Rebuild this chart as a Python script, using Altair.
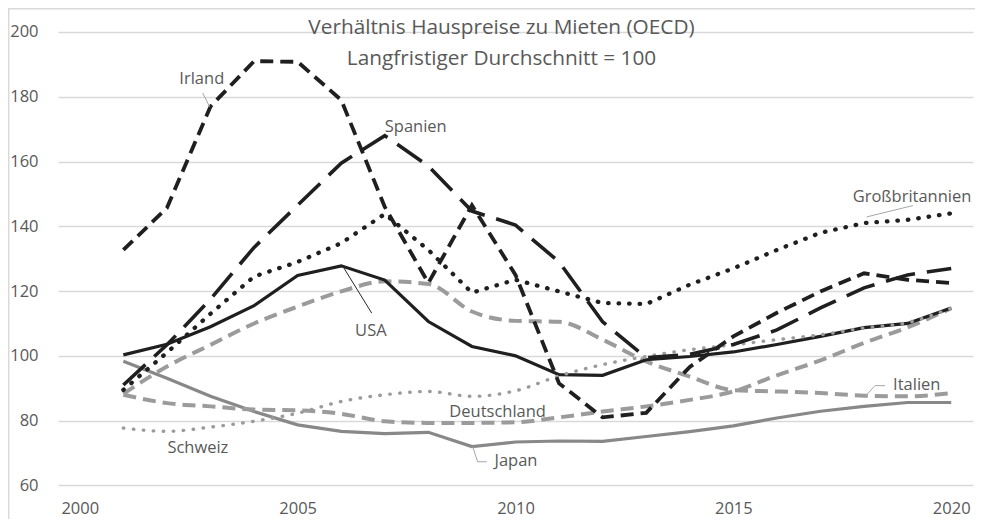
import altair as alt
import pandas as pd

# ---------------- data ----------------
years = list(range(2001, 2021))
irland = [132.7, 145.7, 177.0, 191.0, 190.8, 179.0, 146.0, 122.5, 146.5, 125.0,
          91.5, 81.0, 82.4, 96.6, 106.0, 113.3, 119.9, 125.5, 123.5, 122.5]
spanien = [91.0, 103.4, 117.5, 133.5, 146.5, 159.5, 168.0, 158.6, 144.7, 140.4,
           129.0, 110.5, 99.4, 100.5, 103.5, 108.0, 114.8, 121.0, 125.0, 127.0]
grossbritannien = [89.5, 101.0, 113.0, 124.5, 129.0, 134.8, 143.8, 132.7, 119.5, 123.5,
                   119.9, 116.3, 116.0, 122.0, 127.0, 132.7, 138.0, 141.0, 142.0, 144.0]
usa = [100.3, 103.6, 109.0, 115.5, 124.8, 127.8, 123.4, 110.6, 102.9, 100.0,
       94.2, 94.0, 98.8, 99.8, 101.2, 103.5, 106.0, 108.7, 110.0, 114.8]
italien = [88.3, 96.7, 103.4, 110.0, 115.2, 119.9, 123.0, 122.2, 113.7, 110.8,
           110.5, 105.0, 98.3, 93.6, 89.4, 89.0, 88.5, 87.7, 87.5, 88.5]
deutschland = [88.0, 85.4, 84.4, 83.4, 83.2, 82.1, 79.8, 79.3, 79.3, 79.5,
               81.0, 82.8, 84.4, 86.4, 89.0, 94.0, 98.6, 104.0, 108.8, 114.7]
schweiz = [77.7, 76.7, 78.0, 79.8, 82.3, 85.9, 88.0, 89.0, 87.5, 89.2,
           93.8, 97.3, 99.8, 101.9, 103.4, 105.0, 106.5, 108.6, 110.3, 114.7]
japan = [98.3, 93.1, 87.5, 82.8, 78.7, 76.7, 76.0, 76.4, 72.0, 73.4,
         73.7, 73.6, 75.1, 76.6, 78.4, 80.8, 82.9, 84.4, 85.6, 85.6]

x_ticks = [2000, 2005, 2010, 2015, 2020]
y_ticks = [60, 80, 100, 120, 140, 160, 180, 200]

title_lines = ["Verhältnis Hauspreise zu Mieten (OECD)", "Langfristiger Durchschnitt = 100"]

# label names and their anchor (year, value)
label_names = ["Irland", "Spanien", "Großbritannien", "USA", "Italien", "Deutschland", "Schweiz", "Japan"]
label_years = [2002.80, 2007.71, 2019.10, 2006.68, 2019.21, 2009.59, 2002.71, 2010.01]
label_values = [185.5, 170.7, 149.1, 107.7, 91.1, 82.7, 71.6, 67.6]

# leader lines (year, value) -> (year2, value2)
leader_x = [2002.82, 2019.12, 2006.04, 2018.48, 2018.25, 2009.02, 2009.13]
leader_y = [181.2, 146.4, 127.6, 90.8, 90.8, 71.9, 67.3]
leader_x2 = [2002.98, 2018.06, 2006.70, 2018.25, 2018.02, 2009.13, 2009.34]
leader_y2 = [176.9, 142.9, 113.2, 90.8, 87.4, 67.3, 67.3]
leader_col = ["#a6a6a6", "#a6a6a6", "#262626", "#a6a6a6", "#a6a6a6", "#a6a6a6", "#a6a6a6"]

series = {
    "Irland": irland,
    "Spanien": spanien,
    "Großbritannien": grossbritannien,
    "USA": usa,
    "Italien": italien,
    "Deutschland": deutschland,
    "Schweiz": schweiz,
    "Japan": japan,
}

# ---------------- styles ----------------
BLACK = "#1f1f1f"
GRAY = "#9b9b9b"
styles = {
    "Japan": dict(color="#888888", strokeWidth=3.2, interpolate="linear"),
    "Italien": dict(color=GRAY, strokeWidth=4, strokeDash=[13, 7], interpolate="monotone"),
    "Deutschland": dict(color=GRAY, strokeWidth=4, strokeDash=[13, 7], interpolate="monotone"),
    "USA": dict(color=BLACK, strokeWidth=3.2, interpolate="linear"),
    "Schweiz": dict(color=GRAY, strokeWidth=3.4, strokeDash=[0.5, 9.5], strokeCap="round",
                    interpolate="monotone"),
    "Großbritannien": dict(color=BLACK, strokeWidth=4.3, strokeDash=[0.5, 10], strokeCap="round",
                           interpolate="linear"),
    "Spanien": dict(color=BLACK, strokeWidth=3.6, strokeDash=[30, 12], interpolate="linear"),
    "Irland": dict(color=BLACK, strokeWidth=3.8, strokeDash=[13, 7], interpolate="linear"),
}

FONT = "Open Sans"
TEXT = "#595959"

x_scale = alt.Scale(domain=[1999.5, 2020.5], nice=False, zero=False)
y_scale = alt.Scale(domain=[60, 200], nice=False, zero=False)

x_axis = alt.Axis(values=x_ticks, format="d", grid=False, domain=False, ticks=False, tickSize=0,
                  labelPadding=15.5, labelFontSize=16.5, labelColor=TEXT, labelFont=FONT, title=None)
y_axis = alt.Axis(values=y_ticks, grid=True, gridColor="#d9d9d9", gridWidth=1.3, domain=False,
                  ticks=False, tickSize=0, labelPadding=20, labelFontSize=16.5, labelColor=TEXT,
                  labelFont=FONT, title=None)

layers = []
order = ["Japan", "Italien", "Deutschland", "USA", "Schweiz", "Großbritannien", "Spanien", "Irland"]
for name in order:
    df = pd.DataFrame({"Jahr": years, "Wert": series[name]})
    st = styles[name]
    layers.append(
        alt.Chart(df).mark_line(**st).encode(
            x=alt.X("Jahr:Q", scale=x_scale, axis=x_axis),
            y=alt.Y("Wert:Q", scale=y_scale, axis=y_axis),
        )
    )

# leader lines
lead_df = pd.DataFrame({"Jahr": leader_x, "Wert": leader_y, "x2": leader_x2, "y2": leader_y2, "c": leader_col})
leaders = alt.Chart(lead_df).mark_rule(strokeWidth=1).encode(
    x=alt.X("Jahr:Q", scale=x_scale, axis=x_axis),
    y=alt.Y("Wert:Q", scale=y_scale, axis=y_axis),
    x2="x2:Q", y2="y2:Q",
    color=alt.Color("c:N", scale=None),
)

# series labels
lab_df = pd.DataFrame({"name": label_names, "Jahr": label_years, "Wert": label_values})
labels = alt.Chart(lab_df).mark_text(font=FONT, fontSize=16.5, color=TEXT, align="center",
                                      baseline="middle").encode(
    x=alt.X("Jahr:Q", scale=x_scale, axis=x_axis),
    y=alt.Y("Wert:Q", scale=y_scale, axis=y_axis),
    text="name:N",
)

# title (overlaid on the plot area, as in the original)
title_df = pd.DataFrame({"t": title_lines, "py": [-4.0, 27.0]})
title = alt.Chart(title_df).mark_text(font=FONT, fontSize=20.8, color=TEXT, align="center",
                                       baseline="middle").encode(
    x=alt.value(443.5),
    y=alt.Y("py:Q", scale=None),
    text="t:N",
)

# outer chart frame (top and left edges)
frame_df = pd.DataFrame({"k": ["frame"]})
frame_top = alt.Chart(frame_df).mark_rule(color="#d9d9d9", strokeWidth=1.5).encode(
    x=alt.value(-50), x2=alt.value(917), y=alt.value(-23.3))
frame_left = alt.Chart(frame_df).mark_rule(color="#d9d9d9", strokeWidth=1.5).encode(
    x=alt.value(-49.3), y=alt.value(-24), y2=alt.value(490))

chart = alt.layer(*layers, leaders, labels, frame_top, frame_left, title).properties(
    width=915,
    height=453.4,
    autosize=alt.AutoSizeParams(type="none"),
    padding={"left": 50, "top": 24, "right": 2, "bottom": 34},
    background="white",
).configure_view(stroke=None)

chart.save("out.html", embed_options={"renderer": "svg", "actions": False})
